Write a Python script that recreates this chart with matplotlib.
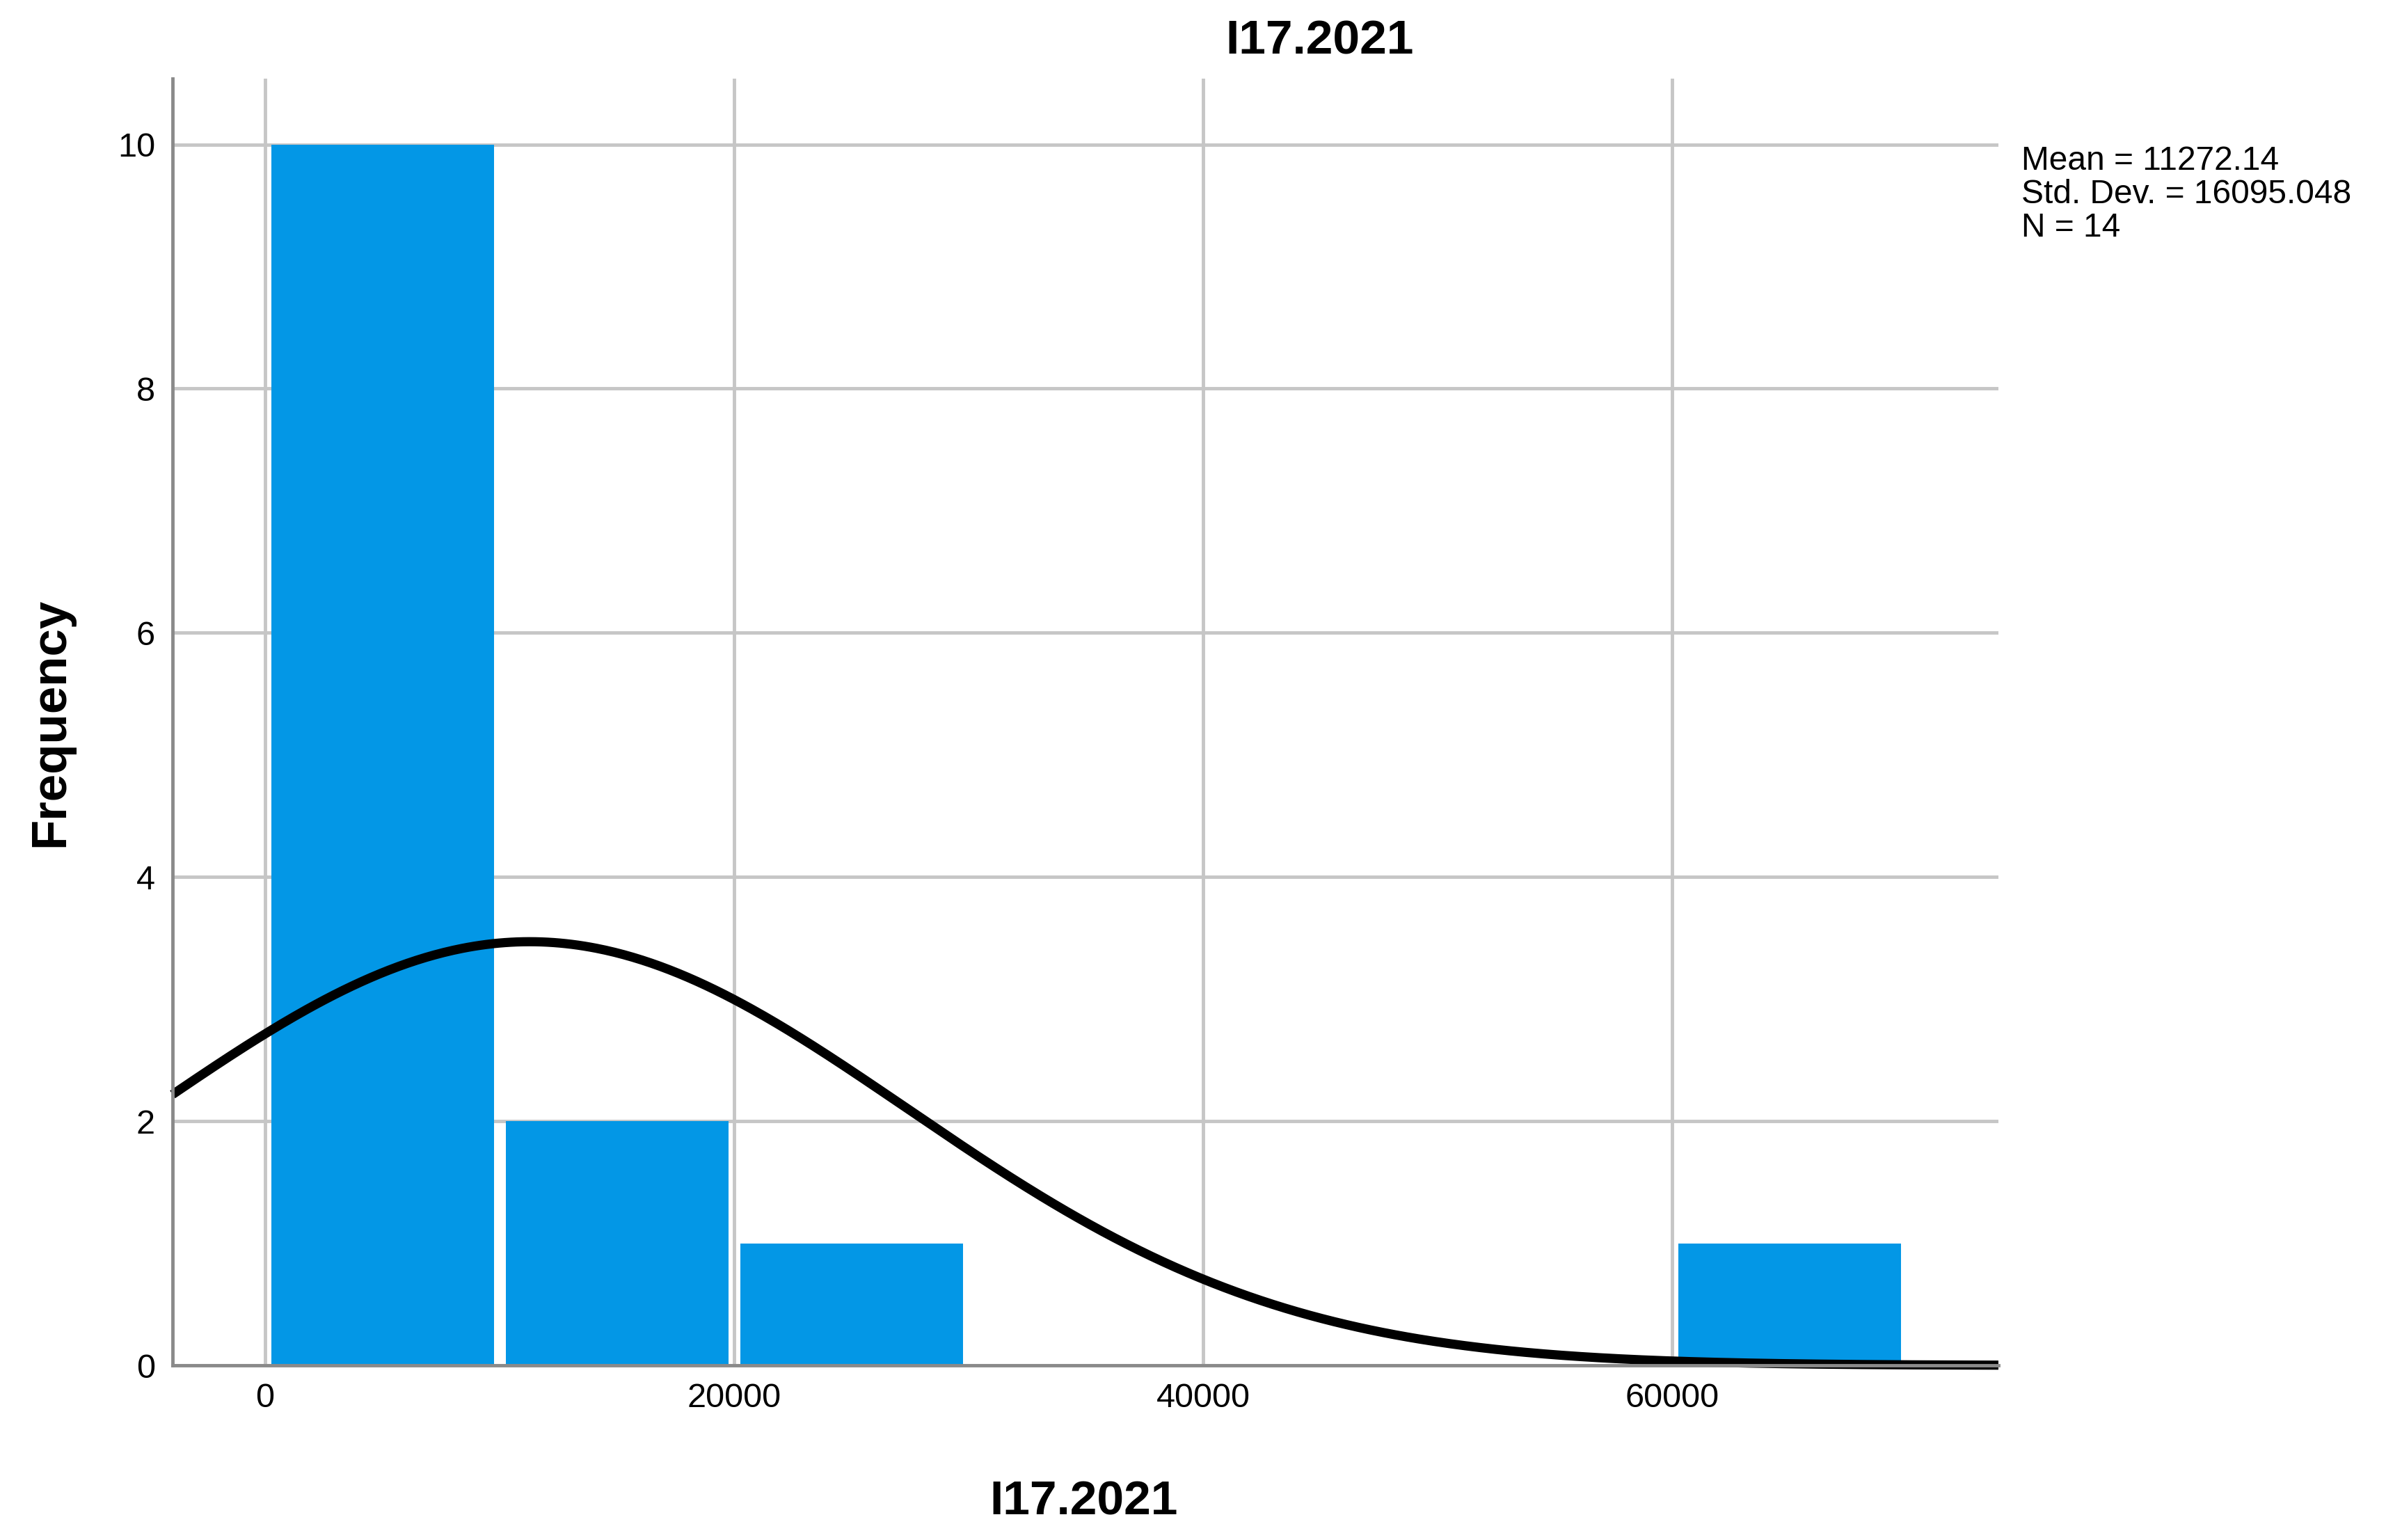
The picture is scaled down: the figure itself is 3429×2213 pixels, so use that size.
import numpy as np
import matplotlib
matplotlib.use("Agg")
import matplotlib.pyplot as plt

plt.rcParams['font.family'] = ['Liberation Sans', 'DejaVu Sans']

# histogram of I17.2021 (SPSS style)
bin_edges = [0, 10000, 20000, 30000, 40000, 50000, 60000, 70000]
counts = [10, 2, 1, 0, 0, 0, 1]
mean_val = 11272.14
std_dev = 16095.048
n_cases = 14

x_ticks = [0, 20000, 40000, 60000]
y_ticks = [0, 2, 4, 6, 8, 10]
var_name = "I17.2021"

bar_color = '#0397e6'
grid_color = '#c6c6c6'
spine_color = '#8a8a8a'

fig = plt.figure(figsize=(34.30, 22.13), dpi=100)
ax = fig.add_axes([0.0723, 0.1134, 0.765, 0.8356])

# bars, with a small white gap between neighbours
gap = 500
lefts = np.array(bin_edges[:-1]) + gap / 2
widths = np.diff(bin_edges) - gap
ax.bar(lefts, counts, width=widths, align='edge', color=bar_color,
       edgecolor='none', zorder=2)

# normal curve scaled to counts
xmin, xmax = -3950, 73900
bin_w = bin_edges[1] - bin_edges[0]
xs = np.linspace(xmin, xmax, 600)
ys = n_cases * bin_w / (std_dev * np.sqrt(2 * np.pi)) * np.exp(-0.5 * ((xs - mean_val) / std_dev) ** 2)
ax.plot(xs, ys, color='black', lw=9.5, solid_capstyle='butt', zorder=3, clip_on=False)

ax.set_xlim(xmin, xmax)
ax.set_ylim(0, 10.54)
ax.set_xticks(x_ticks)
ax.set_yticks(y_ticks)
ax.grid(True, color=grid_color, lw=3.5, zorder=0)
ax.set_axisbelow(True)

ax.tick_params(axis='both', length=0, labelsize=35, colors='black')
ax.tick_params(axis='x', pad=18)
ax.tick_params(axis='y', pad=18)

for side in ['top', 'right']:
    ax.spines[side].set_visible(False)
for side in ['left', 'bottom']:
    ax.spines[side].set_color(spine_color)
    ax.spines[side].set_linewidth(3.5)
    ax.spines[side].set_zorder(4)

# titles
fig.text(0.553, 0.9648, var_name, fontsize=50, fontweight='bold',
         ha='center', va='baseline')
fig.text(0.454, 0.0163, var_name, fontsize=50, fontweight='bold',
         ha='center', va='baseline')
fig.text(0.0213, 0.531, "Frequency", fontsize=51, fontweight='bold',
         rotation=90, ha='center', va='center')

# stats box
stats = [f"Mean = {mean_val:.2f}", f"Std. Dev. = {std_dev:.3f}", f"N = {n_cases}"]
for i, line in enumerate(stats):
    fig.text(0.847, 0.8897 - i * 0.0217, line, fontsize=34.5,
             ha='left', va='baseline')

fig.savefig("out.png", dpi=100, facecolor='white')
